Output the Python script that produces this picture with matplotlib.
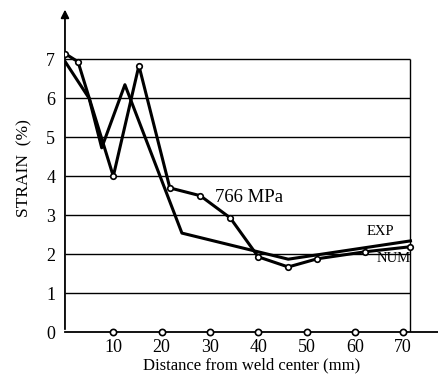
import numpy as np
import matplotlib.pyplot as plt

plt.rcParams['font.family'] = ['Liberation Serif', 'DejaVu Serif']

# curve with circle markers
x_mark = [0, 2.7, 10, 15.3, 21.7, 28, 34.2, 40, 46.2, 52.2, 62.1, 71.5]
y_mark = [7.15, 6.94, 4.0, 6.84, 3.7, 3.5, 2.93, 1.93, 1.67, 1.88, 2.06, 2.19]

# plain curve
x_plain = [0, 5, 7.6, 12.4, 24.2, 39.3, 46.2, 71.5]
y_plain = [6.95, 6.0, 4.73, 6.35, 2.54, 2.08, 1.87, 2.34]

xticks = [10, 20, 30, 40, 50, 60, 70]
yticks = [0, 1, 2, 3, 4, 5, 6, 7]

fig = plt.figure(figsize=(4.39, 3.76), dpi=100)
ax = fig.add_axes([0.148, 0.117, 0.852, 0.870])
ax.set_xlim(0, 77.4)
ax.set_ylim(0, 8.4)

for s in ['top', 'right', 'left']:
    ax.spines[s].set_visible(False)
ax.spines['bottom'].set_linewidth(1.3)

# y axis with arrow
ax.annotate('', xy=(0, 8.35), xytext=(0, 0),
            arrowprops=dict(arrowstyle='-|>', color='black', lw=1.3,
                            mutation_scale=12),
            annotation_clip=False)

# grid and right frame
ax.hlines(yticks[1:], 0, 71.5, color='black', lw=1.0)
ax.vlines(71.5, 0, 7, color='black', lw=1.0)

# tick circles on x axis
ax.plot(xticks, [0] * len(xticks), 'o', mfc='white', mec='black', ms=4.5,
        mew=1.2, clip_on=False, zorder=5)

ax.plot(x_plain, y_plain, '-', color='black', lw=2.2, zorder=3)
ax.plot(x_mark, y_mark, '-o', color='black', lw=2.2, mfc='white',
        mec='black', ms=4, mew=1.2, zorder=4)

ax.set_xticks(xticks)
ax.set_yticks(yticks)
ax.tick_params(length=0, labelsize=13, pad=5)
ax.tick_params(axis='y', pad=7)

ax.text(31, 3.45, '766 MPa', fontsize=13.5, va='center', ha='left')
ax.text(65.2, 2.57, 'EXP', fontsize=10.5, va='center', ha='center')
ax.text(68, 1.88, 'NUM', fontsize=10.5, va='center', ha='center')

ax.set_xlabel('Distance from weld center (mm)', fontsize=12, labelpad=1)
ax.set_ylabel('STRAIN  (%)', fontsize=12.5, labelpad=10)

fig.savefig('out.png', dpi=100)
